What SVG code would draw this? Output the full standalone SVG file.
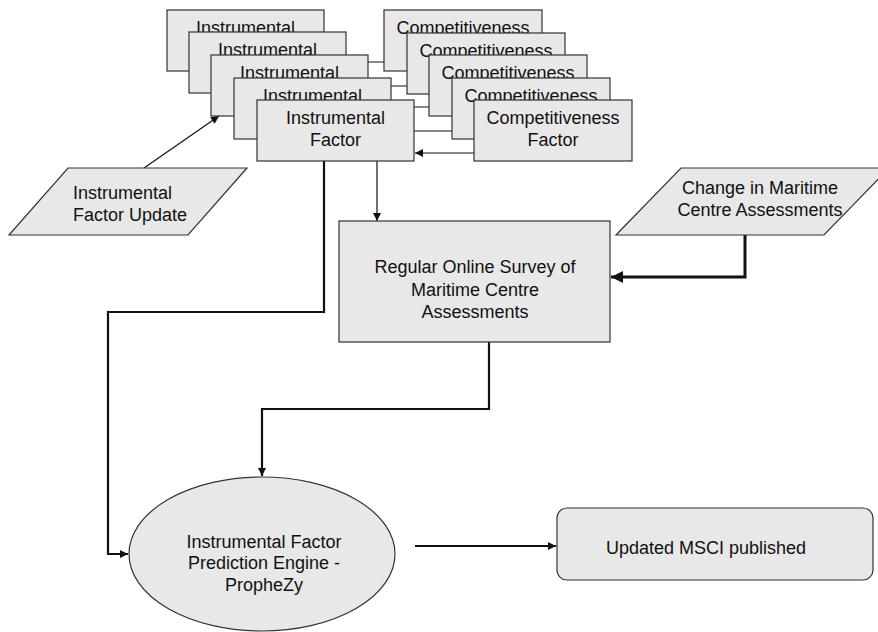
<svg xmlns="http://www.w3.org/2000/svg" width="878" height="632" viewBox="0 0 878 632">
<style>
.box{fill:#e8e8e8;stroke:#333;stroke-width:1.2}
.t{font-family:"Liberation Sans",Arial,sans-serif;font-size:18px;fill:#111;text-anchor:middle}
.ts{font-family:"Liberation Sans",Arial,sans-serif;font-size:18px;fill:#111;text-anchor:start}
.c1{fill:none;stroke:#111;stroke-width:1.2}
.c2{fill:none;stroke:#111;stroke-width:2.2}
.c3{fill:none;stroke:#111;stroke-width:3}
</style>
<defs>
<marker id="ah" viewBox="0 0 10 10" refX="10" refY="5" markerWidth="9" markerHeight="8" markerUnits="userSpaceOnUse" orient="auto"><path d="M0,0 L10,5 L0,10 z" fill="#111"/></marker>
<marker id="ahb" viewBox="0 0 10 10" refX="10" refY="5" markerWidth="12" markerHeight="12" markerUnits="userSpaceOnUse" orient="auto"><path d="M0,0 L10,5 L0,10 z" fill="#111"/></marker>
</defs>
<g id="connectors">
<line class="c1" x1="384" y1="62" x2="324" y2="62"/>
<line class="c1" x1="407" y1="86" x2="347" y2="86"/>
<line class="c1" x1="429" y1="107" x2="369" y2="107"/>
<line class="c1" x1="452" y1="131" x2="392" y2="131"/>
<line class="c1" x1="474" y1="153" x2="415" y2="153" marker-end="url(#ah)"/>
<line class="c1" x1="144" y1="168" x2="219" y2="116" marker-end="url(#ah)"/>
<line class="c1" x1="377" y1="161" x2="377" y2="221" marker-end="url(#ah)"/>
<polyline class="c2" points="324,161 324,312 108,312 108,554 128,554" marker-end="url(#ah)"/>
<polyline class="c2" points="489,342 489,409 262,409 262,476" marker-end="url(#ah)"/>
<polyline class="c3" points="745,235 745,277 611,277" marker-end="url(#ahb)"/>
<line class="c2" x1="415" y1="546" x2="556" y2="546" marker-end="url(#ah)"/>
</g>
<g id="instrumental-1"><rect class="box" x="167" y="10" width="157" height="61"/><text class="t" x="245.5" y="34">Instrumental</text></g>
<g id="instrumental-2"><rect class="box" x="189" y="32" width="157" height="61"/><text class="t" x="267.5" y="56">Instrumental</text></g>
<g id="instrumental-3"><rect class="box" x="211" y="55" width="157" height="61"/><text class="t" x="289.5" y="79">Instrumental</text></g>
<g id="instrumental-4"><rect class="box" x="234" y="78" width="157" height="61"/><text class="t" x="312.5" y="102">Instrumental</text></g>
<g id="instrumental-5"><rect class="box" x="257" y="100" width="157" height="61"/><text class="t" x="335.5" y="124">Instrumental</text><text class="t" x="335.5" y="146">Factor</text></g>
<g id="competitiveness-1"><rect class="box" x="384" y="10" width="158" height="61"/><text class="t" x="463" y="34">Competitiveness</text></g>
<g id="competitiveness-2"><rect class="box" x="407" y="33" width="158" height="61"/><text class="t" x="486" y="57">Competitiveness</text></g>
<g id="competitiveness-3"><rect class="box" x="429" y="55" width="158" height="61"/><text class="t" x="508" y="79">Competitiveness</text></g>
<g id="competitiveness-4"><rect class="box" x="452" y="78" width="158" height="61"/><text class="t" x="531" y="102">Competitiveness</text></g>
<g id="competitiveness-5"><rect class="box" x="474" y="100" width="158" height="61"/><text class="t" x="553" y="124">Competitiveness</text><text class="t" x="553" y="146">Factor</text></g>
<g id="instrumental-update"><polygon class="box" points="68,168 247,168 188,235 9,235"/><text class="ts" x="73" y="199">Instrumental</text><text class="ts" x="73" y="221">Factor Update</text></g>
<g id="change-assessments"><polygon class="box" points="681,168 889,168 824,235 616,235"/><text class="t" x="760" y="194">Change in Maritime</text><text class="t" x="760" y="216">Centre Assessments</text></g>
<g id="survey"><rect class="box" x="339" y="221" width="271" height="121"/><text class="t" x="475" y="273">Regular Online Survey of</text><text class="t" x="475" y="296">Maritime Centre</text><text class="t" x="475" y="318">Assessments</text></g>
<g id="prophezy"><ellipse class="box" cx="262" cy="554" rx="133" ry="77"/><text class="t" x="264" y="548">Instrumental Factor</text><text class="t" x="264" y="569">Prediction Engine -</text><text class="t" x="264" y="591">PropheZy</text></g>
<g id="msci"><rect class="box" x="557" y="508" width="316" height="72" rx="10" ry="10"/><text class="t" x="706" y="554">Updated MSCI published</text></g>
</svg>
